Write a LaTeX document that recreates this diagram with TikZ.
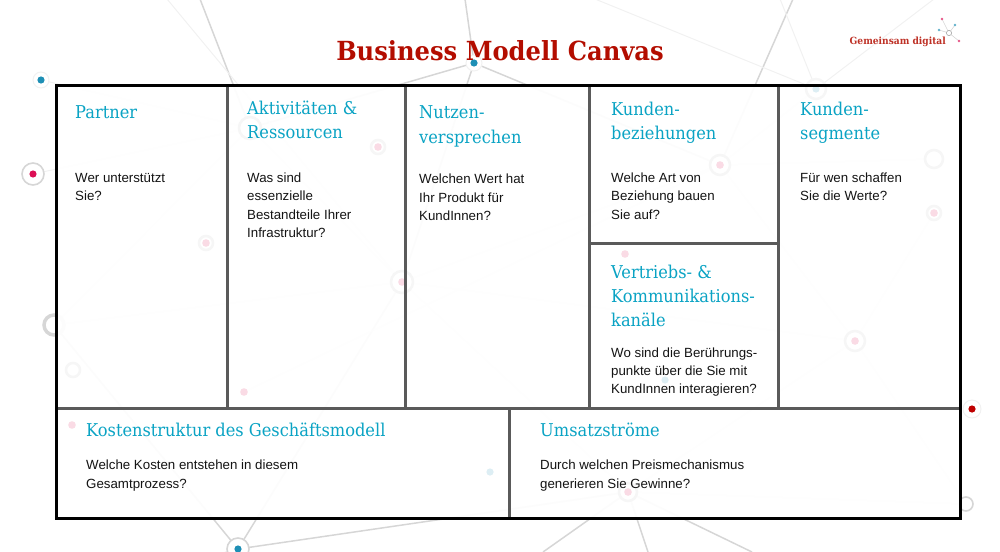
\documentclass[tikz,border=0pt]{standalone}
\usepackage{fontspec}
\setmainfont{Liberation Sans}
\newfontfamily\slabfont[FakeStretch=0.92]{DejaVu Serif}
\definecolor{cellblue}{HTML}{0AA3C4}
\definecolor{titlered}{HTML}{B30D00}
\definecolor{netgray}{HTML}{D6D6D6}
\definecolor{wallgray}{HTML}{5A5A5A}
\definecolor{dotblue}{HTML}{1E8FB5}
\definecolor{dotpink}{HTML}{DC0F55}
\tikzset{
  headtext/.style={anchor=base west, align=left, text=cellblue, inner sep=0pt,
    font=\slabfont\fontsize{17.65}{24.2}\selectfont},
  bodytext/.style={anchor=base west, align=left, text=black!92, inner sep=0pt,
    font=\fontsize{13.3}{18.3}\selectfont},
  innerwall/.style={draw=wallgray, line width=3pt},
  outerwall/.style={draw=black, line width=3pt},
  netline/.style={draw=netgray, line width=1.5pt},
  faintline/.style={draw=netgray!35, line width=1pt},
  paledot/.style={fill=dotpink!15},
  paleblue/.style={fill=dotblue!15},
  palering/.style={draw=netgray!22, fill=white, line width=2.5pt}
}
\begin{document}
\begin{tikzpicture}[x=1pt, y=-1pt]
    \useasboundingbox (0,0) rectangle (1000,551);
    \clip (0,0) rectangle (1000,551);

    % Define the points of the network behind the canvas
    \foreach \name/\x/\y in {aa/41/80, ab/33/174, ac/474/63, ad/54/325, ae/238/549, af/972/409,
      ag/966/504, ah/250/128, ai/378/147, aj/206/243, ak/244/392, al/72/425, am/490/472,
      an/402/282, ao/720/165, ap/816/89, aq/934/159, ar/934/213, as/625/254, at/855/341,
      au/628/492, av/665/380, aw/73/370}
      \coordinate (\name) at (\x,\y);
    \foreach \name/\x/\y in {ta/200/-1, tb/465/-1, tc/793/-1, td/595/-1, te/780/-1, tf/934/-1, tg/167/-1,
      ba/543/552, bb/648/552, bc/752/552, bd/225/552}
      \coordinate (\name) at (\x,\y);

    % Draw the connections
    \foreach \from/\to in {ta/ah, tb/ac, tc/ao, ac/ah, ac/an, ac/ao, ad/ae, ae/an, ae/au,
      au/ba, au/bb, au/bc}
      \draw[netline] (\from) -- (\to);
    \foreach \from/\to in {ab/ah, ad/ah, ad/an, an/ah, an/au, an/at, at/ao, at/ag, at/ar, at/au,
      ao/aq, ao/an, ao/ap, au/ag, td/ap, te/ap, tf/ap, tg/an, aa/ah, ae/bd, ak/ao}
      \draw[faintline] (\from) -- (\to);

    % Put the strong rings and dots on the points
    \foreach \name/\r in {ab/11, ag/7, ae/11}
      \draw[netgray, fill=white, line width=1.6pt] (\name) circle (\r);
    \draw[netgray, fill=white, line width=3.5pt] (ad) circle (10);
    \foreach \name/\r in {aa/8, ac/8, af/9}
      \draw[netgray!35, fill=white, line width=1pt] (\name) circle (\r);
    \foreach \name in {aa, ac, ae}
      \fill[dotblue] (\name) circle (3.6);
    \fill[dotpink] (ab) circle (3.6);
    \fill[red!75!black] (af) circle (3.6);

    % Cover everything with the pale canvas
    \fill[white, fill opacity=.93] (56.7,85) rectangle (960.5,518.5);

    % Put the pale rings and dots on top
    \foreach \name/\r in {ah/11, an/11, ao/10, ap/10, aq/9, at/10, au/9, aw/7, ai/7, aj/7, ar/7}
      \draw[palering] (\name) circle (\r);
    \foreach \name in {ai, aj, ak, al, an, ao, ar, as, at, au}
      \fill[paledot] (\name) circle (3.8);
    \foreach \name in {am, ap, av}
      \fill[paleblue] (\name) circle (3.6);

    % Define the corners of the cells
    \coordinate (NW) at (56.7,85);
    \coordinate (NE) at (960.5,85);
    \coordinate (SE) at (960.5,518.5);
    \coordinate (SW) at (56.7,518.5);
    \coordinate (ML) at (56.7,408.8);
    \coordinate (MR) at (960.5,408.8);
    \foreach \name/\x in {a/227, b/405.7, c/589, d/778}{
      \coordinate (\name0) at (\x,85);
      \coordinate (\name1) at (\x,408.8);
    }
    \coordinate (c2) at (589,243);
    \coordinate (d2) at (778,243);
    \coordinate (e0) at (509.7,408.8);
    \coordinate (e1) at (509.7,518.5);

    % Draw the walls of the canvas
    \foreach \name in {a, b, c, d}
      \draw[innerwall] (\name0) -- (\name1);
    \draw[innerwall] (c2) -- (d2);
    \draw[innerwall] (e0) -- (e1);
    \draw[innerwall] (ML) -- (MR);
    \draw[outerwall] (NW) -- (NE) -- (SE) -- (SW) -- cycle;

    % Title and logo
    \node[anchor=base, inner sep=0pt, text=titlered, font=\slabfont\bfseries\fontsize{26.3}{30}\selectfont]
      (title) at (500,60) {Business Modell Canvas};
    \node[anchor=base west, inner sep=0pt, text=titlered!85!white, font=\slabfont\bfseries\fontsize{9.9}{12}\selectfont]
      (logotext) at (849.5,45) {Gemeinsam digital};
    \coordinate (lo) at (949,33);
    \foreach \name/\x/\y/\c in {la/942/19/dotpink, lb/955/25/dotblue, lc/939/30/dotblue, ld/959/41/dotpink}{
      \coordinate (\name) at (\x,\y);
      \draw[netgray, line width=.6pt] (lo) -- (\name);
      \fill[\c!70!white] (\name) circle (1.3);
    }
    \draw[gray!70, fill=white, line width=.6pt] (lo) circle (2.6);

    % Headings of the cells
    \node[headtext] (partnerHead) at (75,118) {Partner};
    \node[headtext] (aktivHead) at (247,114) {Aktivitäten \&};
    \node[headtext] (aktivHeadB) at (247,138) {Ressourcen};
    \node[headtext] (nutzenHead) at (419,118) {Nutzen-};
    \node[headtext] (nutzenHeadB) at (419,143) {versprechen};
    \node[headtext] (beziehHead) at (611,115) {Kunden-};
    \node[headtext] (beziehHeadB) at (611,139) {beziehungen};
    \node[headtext] (segmentHead) at (800,115) {Kunden-};
    \node[headtext] (segmentHeadB) at (800,139) {segmente};
    \node[headtext] (kanalHead) at (611,278) {Vertriebs- \&};
    \node[headtext] (kanalHeadB) at (611,302) {Kommunikations-};
    \node[headtext] (kanalHeadC) at (611,326) {kanäle};
    \node[headtext] (kostenHead) at (86,436) {Kostenstruktur des Geschäftsmodell};
    \node[headtext] (umsatzHead) at (540,436) {Umsatzströme};

    % Questions of the cells
    \foreach \name/\x/\y/\line in {
      pa/75/182/Wer unterstützt, pb/75/200/Sie?,
      aa/247/182/Was sind, ab/247/200/essenzielle, ac/247/219/Bestandteile Ihrer, ad/247/237/Infrastruktur?,
      na/419/183/Welchen Wert hat, nb/419/202/Ihr Produkt für, nc/419/220/KundInnen?,
      ba/611/182/Welche Art von, bb/611/200/Beziehung bauen, bc/611/219/Sie auf?,
      sa/800/182/Für wen schaffen, sb/800/200/Sie die Werte?,
      ka/611/357/Wo sind die Berührungs-, kb/611/375/punkte über die Sie mit, kc/611/393/KundInnen interagieren?,
      ca/86/469/Welche Kosten entstehen in diesem, cb/86/488/Gesamtprozess?,
      ua/540/469/Durch welchen Preismechanismus, ub/540/488/generieren Sie Gewinne?}
      \node[bodytext] (text\name) at (\x,\y) {\line};
\end{tikzpicture}
\end{document}
